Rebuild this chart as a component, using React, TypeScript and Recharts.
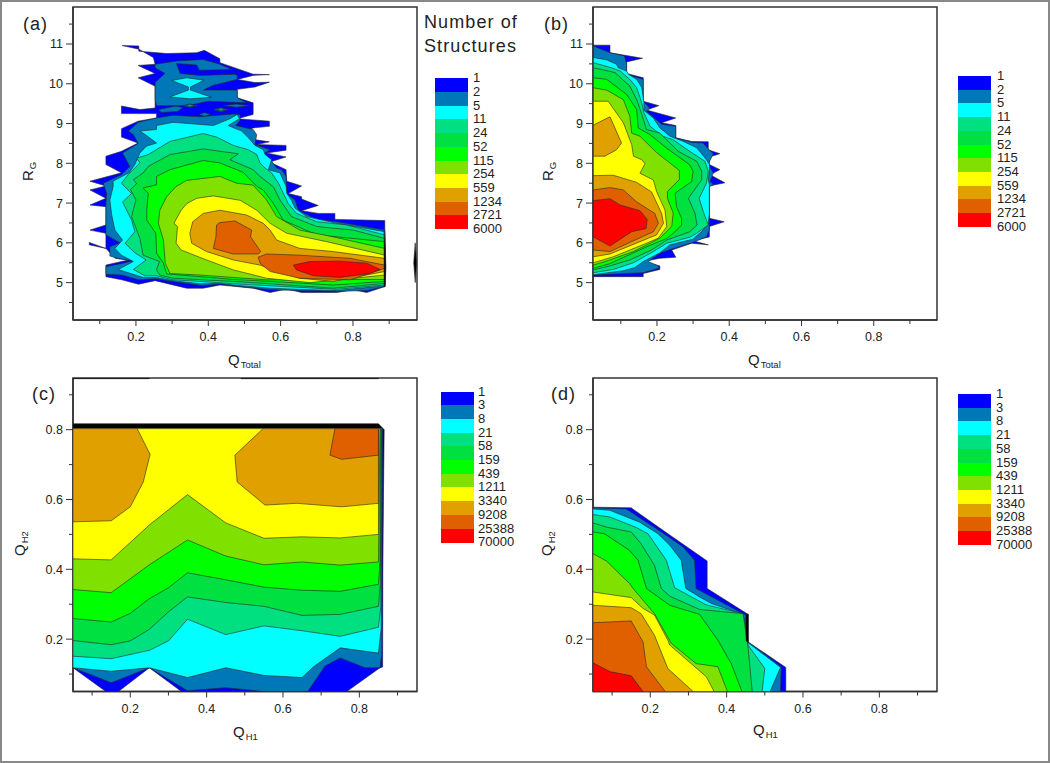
import { ScatterChart, Scatter, XAxis, YAxis, ReferenceArea, Label } from 'recharts'

type Pt = [number, number]

const COLORS = ['#0000ff', '#0078b8', '#00ffff', '#00e080', '#00e040', '#00ff00', '#80e000', '#ffff00', '#e0a000', '#e06000', '#ff0000', '#000000']

const legendAB = ['1', '2', '5', '11', '24', '52', '115', '254', '559', '1234', '2721', '6000']
const legendCD = ['1', '3', '8', '21', '58', '159', '439', '1211', '3340', '9208', '25388', '70000']

const ticksRg = [4.5, 5, 5.5, 6, 6.5, 7, 7.5, 8, 8.5, 9, 9.5, 10, 10.5, 11, 11.5]
const majorsRg = [5, 6, 7, 8, 9, 10, 11]
const ticksQ = [0.1, 0.2, 0.3, 0.4, 0.5, 0.6, 0.7, 0.8, 0.9]
const majorsQ = [0.2, 0.4, 0.6, 0.8]

// panel (a) contours, outermost first
const aL1: Pt[] = [[.162, 10.96], [.208, 10.95], [.208, 10.82], [.285, 10.76], [.368, 10.78], [.389, 10.84], [.432, 10.63], [.432, 10.53], [.48, 10.38], [.524, 10.24], [.569, 10.23], [.524, 10.21], [.48, 10.11], [.529, 10.03], [.569, 10.04], [.529, 9.92], [.48, 9.86], [.48, 9.65], [.524, 9.52], [.524, 9.23], [.48, 9.12], [.569, 9.06], [.569, 8.93], [.524, 8.89], [.49, 8.74], [.524, 8.6], [.569, 8.54], [.534, 8.47], [.615, 8.45], [.615, 8.33], [.561, 8.26], [.615, 8.16], [.57, 8.03], [.615, 7.84], [.617, 7.55], [.658, 7.43], [.621, 7.24], [.658, 7.16], [.658, 7.1], [.704, 6.94], [.658, 6.81], [.704, 6.74], [.75, 6.74], [.75, 6.59], [.888, 6.56], [.888, 4.9], [.838, 4.75], [.801, 4.82], [.755, 4.75], [.658, 4.75], [.617, 4.84], [.571, 4.75], [.524, 4.86], [.478, 4.9], [.432, 4.94], [.386, 4.86], [.34, 4.86], [.285, 4.98], [.253, 5.05], [.207, 4.96], [.161, 5.07], [.117, 5.15], [.117, 5.44], [.179, 5.57], [.143, 5.61], [.117, 5.86], [.071, 6.01], [.071, 5.95], [.117, 5.86], [.117, 6.24], [.073, 6.32], [.117, 6.45], [.117, 6.91], [.073, 6.95], [.117, 7.12], [.073, 7.33], [.117, 7.43], [.073, 7.55], [.16, 7.76], [.117, 7.97], [.117, 8.18], [.16, 8.3], [.206, 8.51], [.16, 8.66], [.16, 8.87], [.206, 9.06], [.257, 9.14], [.257, 9.25], [.16, 9.25], [.16, 9.44], [.211, 9.35], [.253, 9.39], [.253, 9.94], [.206, 10.15], [.253, 10.26], [.206, 10.46], [.253, 10.49], [.248, 10.66], [.208, 10.87]]
const aL2Top: Pt[] = [[.253, 10.49], [.312, 10.57], [.386, 10.61], [.432, 10.49], [.465, 10.36], [.48, 10.2], [.48, 10.11], [.414, 9.96], [.386, 9.84], [.48, 9.84], [.48, 9.65], [.506, 9.52], [.4, 9.56], [.34, 9.45], [.257, 9.45], [.253, 9.6], [.253, 10.03], [.28, 10.26], [.253, 10.4]]
const aL1Island: Pt[] = [[.312, 10.51], [.368, 10.47], [.375, 10.34], [.469, 10.36], [.478, 10.24], [.377, 10.21], [.322, 10.26]]
const aL3Top: Pt[] = [[.299, 10.08], [.34, 10.15], [.388, 10.09], [.351, 9.92], [.351, 9.84], [.409, 9.66], [.349, 9.62], [.294, 9.67], [.345, 9.84], [.345, 9.92]]
const aS1: Pt[] = [[.262, 9.35], [.31, 9.44], [.33, 9.4], [.315, 9.3], [.27, 9.28]]
const aS2: Pt[] = [[.326, 9.45], [.349, 9.49], [.372, 9.45], [.349, 9.41]]
const aS3: Pt[] = [[.414, 9.35], [.435, 9.4], [.455, 9.35], [.435, 9.29]]
const aS4: Pt[] = [[.441, 9.45], [.478, 9.49], [.515, 9.45], [.478, 9.41]]
const aS5: Pt[] = [[.374, 9.23], [.39, 9.28], [.406, 9.23], [.39, 9.18]]
const aC2: Pt[] = [[.335, 9.45], [.349, 9.47], [.363, 9.45], [.349, 9.43]]
const aC3: Pt[] = [[.424, 9.35], [.435, 9.37], [.446, 9.35], [.435, 9.32]]
const aL2: Pt[] = [[.206, 9.03], [.257, 9.14], [.303, 9.21], [.377, 9.17], [.469, 9.24], [.488, 9.22], [.488, 9.08], [.476, 8.95], [.524, 8.85], [.534, 8.72], [.529, 8.47], [.571, 8.34], [.552, 8.24], [.572, 8.09], [.589, 7.88], [.603, 7.84], [.615, 7.67], [.617, 7.24], [.64, 7.07], [.649, 6.82], [.7, 6.59], [.755, 6.53], [.888, 6.32], [.888, 4.9], [.838, 4.8], [.755, 4.78], [.653, 4.8], [.571, 4.82], [.469, 4.92], [.432, 4.97], [.386, 4.92], [.303, 5.03], [.253, 5.1], [.207, 5.07], [.161, 5.19], [.117, 5.21], [.117, 5.4], [.165, 5.49], [.192, 5.55], [.148, 5.61], [.128, 5.67], [.128, 5.9], [.156, 6.0], [.117, 6.2], [.117, 7.0], [.119, 7.24], [.11, 7.5], [.16, 7.71], [.183, 7.92], [.163, 8.26], [.206, 8.5], [.193, 8.72], [.179, 8.81]]
const aL3: Pt[] = [[.257, 8.95], [.303, 9.03], [.414, 8.95], [.46, 9.12], [.48, 9.23], [.486, 9.12], [.455, 8.95], [.492, 8.81], [.511, 8.64], [.529, 8.45], [.552, 8.34], [.557, 8.22], [.575, 8.09], [.566, 7.84], [.598, 7.76], [.615, 7.42], [.617, 7.24], [.63, 7.07], [.64, 6.87], [.672, 6.66], [.755, 6.49], [.888, 6.28], [.888, 4.92], [.755, 4.8], [.653, 4.83], [.571, 4.86], [.469, 4.94], [.432, 4.98], [.377, 4.97], [.303, 5.05], [.257, 5.13], [.22, 5.13], [.151, 5.33], [.193, 5.53], [.16, 5.69], [.142, 5.86], [.163, 6.07], [.142, 6.32], [.133, 6.7], [.128, 7.08], [.137, 7.41], [.137, 7.55], [.182, 7.77], [.197, 7.97], [.211, 8.26], [.229, 8.43], [.257, 8.51], [.229, 8.7], [.211, 8.81], [.257, 8.85]]
const aL4: Pt[] = [[.234, 8.22], [.294, 8.55], [.386, 8.75], [.423, 8.66], [.469, 8.45], [.511, 8.34], [.534, 8.22], [.543, 8.01], [.557, 7.88], [.575, 7.76], [.594, 7.5], [.603, 7.33], [.621, 6.99], [.644, 6.74], [.7, 6.53], [.782, 6.45], [.888, 6.2], [.888, 4.94], [.755, 4.83], [.653, 4.88], [.571, 4.92], [.469, 4.97], [.377, 5.03], [.303, 5.07], [.257, 5.17], [.225, 5.17], [.193, 5.33], [.228, 5.57], [.197, 5.75], [.17, 5.99], [.197, 6.28], [.188, 6.57], [.163, 7.03], [.188, 7.24], [.165, 7.45], [.16, 7.5], [.178, 7.71], [.211, 8.01], [.202, 8.13]]
const aL5: Pt[] = [[.252, 8.01], [.294, 8.22], [.386, 8.36], [.451, 8.28], [.483, 8.24], [.46, 8.09], [.524, 7.84], [.543, 7.67], [.58, 7.41], [.598, 7.08], [.63, 6.66], [.7, 6.41], [.801, 6.32], [.888, 6.11], [.888, 4.98], [.746, 4.86], [.571, 4.97], [.469, 5.03], [.303, 5.11], [.266, 5.19], [.257, 5.32], [.265, 5.53], [.22, 5.69], [.211, 6.11], [.188, 6.66], [.2, 7.08], [.185, 7.34], [.202, 7.49], [.193, 7.59], [.22, 7.76], [.234, 7.92]]
const aL6: Pt[] = [[.294, 7.84], [.386, 8.07], [.432, 8.01], [.497, 7.77], [.534, 7.42], [.552, 7.33], [.58, 6.99], [.607, 6.57], [.7, 6.2], [.888, 6.03], [.888, 5.03], [.746, 4.94], [.571, 5.03], [.469, 5.08], [.285, 5.22], [.276, 5.49], [.257, 5.74], [.255, 6.24], [.23, 6.57], [.23, 6.82], [.234, 7.24], [.22, 7.38], [.257, 7.46], [.257, 7.67]]
const aL7: Pt[] = [[.31, 7.41], [.34, 7.57], [.432, 7.67], [.478, 7.5], [.524, 7.45], [.561, 7.08], [.589, 6.66], [.653, 6.32], [.746, 6.15], [.888, 5.86], [.888, 5.08], [.561, 5.07], [.469, 5.13], [.377, 5.19], [.294, 5.23], [.281, 5.49], [.276, 6.07], [.262, 6.49], [.266, 6.82], [.285, 7.16]]
const aL8: Pt[] = [[.341, 6.99], [.368, 7.12], [.414, 7.18], [.488, 7.07], [.534, 6.82], [.571, 6.49], [.617, 6.24], [.727, 6.03], [.888, 5.69], [.888, 5.19], [.681, 5.0], [.561, 5.11], [.469, 5.32], [.395, 5.57], [.325, 5.82], [.311, 5.99], [.315, 6.41], [.305, 6.49], [.325, 6.82]]
const aL9: Pt[] = [[.357, 6.53], [.386, 6.74], [.432, 6.82], [.506, 6.7], [.552, 6.49], [.571, 6.32], [.589, 6.07], [.653, 5.86], [.746, 5.78], [.888, 5.61], [.888, 5.28], [.746, 5.03], [.653, 5.11], [.543, 5.44], [.469, 5.57], [.395, 5.78], [.354, 5.99], [.349, 6.24]]
const aL10A: Pt[] = [[.423, 6.45], [.432, 6.51], [.474, 6.55], [.52, 6.32], [.517, 6.15], [.545, 5.78], [.538, 5.72], [.469, 5.72], [.414, 5.86], [.421, 6.15]]
const aL10B: Pt[] = [[.538, 5.64], [.561, 5.72], [.653, 5.69], [.792, 5.61], [.888, 5.44], [.888, 5.36], [.792, 5.07], [.653, 5.11], [.571, 5.28], [.543, 5.49]]
const aL11: Pt[] = [[.635, 5.44], [.681, 5.53], [.764, 5.54], [.838, 5.49], [.875, 5.33], [.847, 5.23], [.764, 5.13], [.691, 5.17], [.644, 5.32]]
const aEdge: Pt[] = [[.886, 6.3], [.889, 5.9], [.891, 5.4], [.889, 4.9], [.886, 4.9]]
const aSliver: Pt[] = [[.972, 6.0], [.968, 5.5], [.972, 5.0], [.976, 5.5]]

// panel (b) contours
const bL1: Pt[] = [[.024, 10.97], [.07, 10.97], [.07, 10.78], [.16, 10.64], [.116, 10.55], [.116, 10.26], [.162, 10.15], [.162, 9.56], [.205, 9.45], [.171, 9.34], [.252, 9.14], [.213, 9.02], [.252, 8.95], [.252, 8.64], [.296, 8.55], [.342, 8.54], [.342, 8.34], [.374, 8.24], [.345, 8.16], [.345, 7.97], [.374, 7.84], [.347, 7.71], [.374, 7.58], [.388, 7.51], [.345, 7.43], [.345, 6.62], [.386, 6.53], [.345, 6.41], [.345, 6.15], [.3, 6.05], [.342, 5.95], [.296, 5.99], [.241, 5.82], [.252, 5.64], [.208, 5.61], [.162, 5.53], [.208, 5.42], [.208, 5.33], [.162, 5.23], [.162, 5.15], [.024, 5.15]]
const bL2: Pt[] = [[.024, 10.95], [.07, 10.78], [.11, 10.7], [.116, 10.49], [.116, 10.24], [.162, 10.11], [.162, 9.56], [.18, 9.39], [.171, 9.31], [.213, 8.98], [.252, 8.93], [.252, 8.64], [.296, 8.53], [.328, 8.51], [.339, 8.39], [.356, 8.24], [.343, 8.0], [.345, 7.92], [.356, 7.76], [.347, 7.55], [.356, 7.46], [.345, 7.41], [.345, 6.32], [.337, 6.15], [.296, 6.0], [.245, 5.86], [.208, 5.74], [.176, 5.53], [.204, 5.42], [.204, 5.36], [.162, 5.25], [.024, 5.19]]
const bL3: Pt[] = [[.024, 10.66], [.061, 10.6], [.088, 10.49], [.093, 10.4], [.116, 10.32], [.121, 10.24], [.144, 10.11], [.158, 9.9], [.164, 9.52], [.164, 9.33], [.19, 9.14], [.208, 8.89], [.236, 8.68], [.273, 8.55], [.31, 8.39], [.337, 8.09], [.345, 7.97], [.345, 7.84], [.342, 7.59], [.345, 7.46], [.345, 6.74], [.342, 6.49], [.323, 6.28], [.299, 6.09], [.236, 5.95], [.208, 5.75], [.162, 5.53], [.139, 5.38], [.107, 5.3], [.024, 5.2]]
const bL4: Pt[] = [[.024, 10.53], [.075, 10.4], [.098, 10.32], [.125, 10.11], [.144, 9.9], [.158, 9.52], [.164, 9.27], [.181, 8.93], [.217, 8.68], [.245, 8.59], [.291, 8.3], [.333, 8.05], [.342, 7.8], [.337, 7.5], [.317, 7.12], [.328, 6.79], [.342, 6.45], [.31, 6.24], [.291, 6.14], [.227, 5.99], [.19, 5.78], [.135, 5.5], [.079, 5.33], [.024, 5.25]]
const bL5: Pt[] = [[.024, 10.4], [.047, 10.36], [.084, 10.28], [.125, 9.94], [.144, 9.6], [.158, 9.23], [.171, 8.85], [.208, 8.76], [.259, 8.3], [.31, 8.05], [.324, 7.8], [.324, 7.59], [.287, 7.12], [.305, 6.75], [.311, 6.45], [.291, 6.28], [.227, 6.07], [.185, 5.82], [.125, 5.57], [.07, 5.42], [.024, 5.32]]
const bL6: Pt[] = [[.024, 10.15], [.061, 10.11], [.116, 9.73], [.144, 9.35], [.148, 8.89], [.181, 8.72], [.227, 8.38], [.291, 7.96], [.3, 7.8], [.296, 7.54], [.25, 7.25], [.254, 6.91], [.268, 6.62], [.268, 6.45], [.25, 6.28], [.227, 6.11], [.171, 5.9], [.116, 5.67], [.07, 5.48], [.024, 5.36]]
const bL7: Pt[] = [[.024, 9.9], [.061, 9.84], [.107, 9.6], [.125, 9.18], [.13, 8.76], [.153, 8.68], [.199, 8.27], [.262, 7.82], [.262, 7.59], [.229, 7.29], [.229, 7.12], [.245, 6.75], [.241, 6.41], [.208, 6.12], [.19, 6.03], [.135, 5.78], [.07, 5.57], [.024, 5.44]]
const bL8: Pt[] = [[.024, 9.56], [.065, 9.56], [.107, 9.02], [.13, 8.47], [.135, 8.18], [.158, 8.09], [.167, 7.99], [.153, 7.75], [.19, 7.58], [.199, 7.29], [.222, 6.83], [.227, 6.41], [.204, 6.12], [.171, 5.99], [.079, 5.65], [.024, 5.5]]
const bL9Top: Pt[] = [[.024, 8.96], [.07, 9.17], [.102, 8.51], [.088, 8.34], [.056, 8.18], [.024, 8.18]]
const bL9: Pt[] = [[.024, 7.69], [.079, 7.7], [.144, 7.52], [.185, 7.28], [.213, 6.74], [.218, 6.49], [.199, 6.2], [.07, 5.72], [.024, 5.65]]
const bL10: Pt[] = [[.024, 7.33], [.07, 7.39], [.107, 7.33], [.144, 7.03], [.194, 6.74], [.204, 6.49], [.19, 6.28], [.07, 5.78], [.024, 5.82]]
const bL11: Pt[] = [[.024, 7.06], [.07, 7.11], [.098, 6.95], [.153, 6.81], [.173, 6.59], [.17, 6.36], [.13, 6.28], [.07, 5.92], [.024, 6.15]]

// panel (c) contours
const cBase: Pt[] = [[.05, .817], [.85, .817], [.865, .8], [.862, .5], [.857, .12], [.854, .118], [.05, .118]]
const cL1: Pt[] = [[.05, .803], [.862, .803], [.861, .12], [.854, .118], [.767, .05], [.334, .05], [.25, .118], [.169, .05], [.136, .05], [.05, .118]]
const cL2: Pt[] = [[.05, .803], [.86, .803], [.859, .16], [.854, .118], [.815, .118], [.75, .146], [.71, .123], [.665, .05], [.55, .05], [.45, .061], [.35, .052], [.25, .118], [.15, .075], [.05, .118]]
const cL3: Pt[] = [[.05, .803], [.859, .803], [.857, .23], [.85, .16], [.75, .175], [.68, .121], [.65, .09], [.55, .096], [.45, .118], [.35, .09], [.25, .118], [.15, .108], [.05, .118]]
const cL4: Pt[] = [[.05, .803], [.858, .803], [.856, .29], [.85, .234], [.75, .208], [.65, .224], [.55, .238], [.45, .213], [.35, .257], [.3, .195], [.25, .168], [.15, .144], [.05, .151]]
const cL5: Pt[] = [[.05, .803], [.857, .803], [.855, .36], [.85, .294], [.75, .271], [.65, .268], [.55, .294], [.45, .305], [.35, .321], [.3, .278], [.25, .228], [.2, .195], [.15, .184], [.05, .196]]
const cL6: Pt[] = [[.05, .803], [.856, .803], [.854, .42], [.85, .357], [.75, .337], [.65, .34], [.55, .349], [.45, .37], [.35, .39], [.3, .347], [.25, .316], [.2, .274], [.15, .249], [.05, .259]]
const cL7: Pt[] = [[.05, .803], [.854, .803], [.85, .421], [.75, .412], [.65, .421], [.55, .413], [.45, .438], [.35, .484], [.25, .413], [.15, .333], [.05, .342]]
const cL8: Pt[] = [[.05, .803], [.85, .803], [.85, .5], [.75, .49], [.65, .493], [.55, .489], [.45, .533], [.35, .614], [.25, .527], [.15, .427], [.05, .43]]
const cL9A: Pt[] = [[.05, .803], [.218, .803], [.252, .729], [.234, .65], [.2, .579], [.15, .539], [.05, .536]]
const cL9B: Pt[] = [[.548, .803], [.474, .727], [.48, .65], [.553, .584], [.636, .589], [.754, .579], [.85, .589], [.85, .803]]
const cL10: Pt[] = [[.736, .803], [.723, .727], [.754, .715], [.85, .727], [.85, .803]]
const cTopA: Pt[] = [[.05, .946], [.25, .946], [.25, .951], [.05, .951]]
const cTopB: Pt[] = [[.49, .946], [.85, .946], [.85, .951], [.49, .951]]

// panel (d) contours
const dL1: Pt[] = [[.05, .578], [.15, .576], [.25, .499], [.349, .424], [.349, .345], [.456, .271], [.456, .192], [.555, .119], [.555, .05], [.05, .05]]
const dL2: Pt[] = [[.05, .576], [.137, .573], [.229, .507], [.286, .464], [.316, .426], [.32, .345], [.452, .268], [.456, .192], [.543, .121], [.541, .05], [.05, .05]]
const dL3: Pt[] = [[.05, .573], [.094, .569], [.172, .535], [.22, .502], [.251, .469], [.281, .426], [.293, .345], [.329, .321], [.36, .302], [.443, .271], [.456, .19], [.541, .119], [.514, .05], [.05, .05]]
const dL4: Pt[] = [[.05, .557], [.094, .55], [.163, .52], [.194, .502], [.242, .426], [.264, .347], [.347, .298], [.443, .273], [.456, .183], [.5, .116], [.493, .05], [.05, .05]]
const dL5: Pt[] = [[.05, .533], [.085, .521], [.15, .507], [.176, .473], [.211, .411], [.229, .345], [.251, .323], [.329, .285], [.443, .273], [.456, .178], [.467, .05], [.05, .05]]
const dL6: Pt[] = [[.05, .507], [.08, .502], [.146, .454], [.168, .426], [.19, .345], [.251, .297], [.329, .271], [.377, .197], [.412, .13], [.44, .05], [.05, .05]]
const dL7: Pt[] = [[.05, .445], [.085, .424], [.146, .359], [.155, .345], [.211, .273], [.255, .188], [.32, .13], [.377, .121], [.402, .05], [.05, .05]]
const dL8: Pt[] = [[.05, .335], [.15, .319], [.181, .288], [.211, .269], [.246, .197], [.251, .183], [.347, .092], [.367, .05], [.05, .05]]
const dL9: Pt[] = [[.05, .297], [.15, .29], [.176, .273], [.211, .211], [.246, .116], [.312, .05], [.05, .05]]
const dL10: Pt[] = [[.05, .247], [.15, .252], [.181, .192], [.19, .121], [.239, .05], [.05, .05]]
const dL11: Pt[] = [[.05, .132], [.094, .107], [.15, .095], [.181, .05], [.05, .05]]
const dEdge: Pt[] = [[.45, .27], [.457, .272], [.457, .19], [.451, .195]]

const layersA: [number, Pt[]][] = [[0, aL1], [1, aL2Top], [0, aL1Island], [2, aL3Top], [1, aS1], [1, aS2], [1, aS3], [1, aS4], [1, aS5], [3, aC2], [3, aC3], [1, aL2], [2, aL3], [3, aL4], [4, aL5], [5, aL6], [6, aL7], [7, aL8], [8, aL9], [9, aL10A], [9, aL10B], [10, aL11], [11, aEdge], [11, aSliver]]
const layersB: [number, Pt[]][] = [[0, bL1], [1, bL2], [2, bL3], [3, bL4], [4, bL5], [5, bL6], [6, bL7], [7, bL8], [8, bL9Top], [8, bL9], [9, bL10], [10, bL11]]
const layersC: [number, Pt[]][] = [[11, cBase], [0, cL1], [1, cL2], [2, cL3], [3, cL4], [4, cL5], [5, cL6], [6, cL7], [7, cL8], [8, cL9A], [8, cL9B], [9, cL10], [11, cTopA], [11, cTopB]]
const layersD: [number, Pt[]][] = [[0, dL1], [1, dL2], [2, dL3], [3, dL4], [4, dL5], [5, dL6], [6, dL7], [7, dL8], [8, dL9], [9, dL10], [10, dL11], [11, dEdge]]

const FONT = '"Liberation Sans", Arial, sans-serif'
const INK = '#222'

function XTick({ x, y, payload }: any) {
    const major = majorsQ.includes(payload.value)
    return (
        <g>
            <line x1={x} x2={x} y1={y} y2={y + (major ? 6 : 4)} stroke="#333" strokeWidth={1} />
            {major && <text x={x} y={y + 21} textAnchor="middle" fontSize={12.5} fontFamily={FONT} fill={INK}>{payload.value}</text>}
        </g>
    )
}

function makeYTick(majors: number[]) {
    return function YTick({ x, y, payload }: any) {
        const major = majors.includes(payload.value)
        return (
            <g>
                <line x1={x} x2={x - (major ? 7 : 4)} y1={y} y2={y} stroke="#333" strokeWidth={1} />
                {major && <text x={x - 10} y={y + 4.5} textAnchor="end" fontSize={12.5} fontFamily={FONT} fill={INK}>{payload.value}</text>}
            </g>
        )
    }
}

const title = (main: string, sub: string, x: number, y: number, rotate: boolean) => (
    <Label
        content={() => (
            <text x={x} y={y} fontSize={15} fontFamily={FONT} fill={INK} transform={rotate ? `rotate(-90 ${x} ${y})` : undefined}>
                {main}
                <tspan dy={3} dx={1} fontSize={9.5}>{sub}</tspan>
            </text>
        )}
    />
)

interface PanelProps {
    left: number
    top: number
    width: number
    height: number
    axisLeft: number
    axisBottom: number
    marginTop: number
    marginRight: number
    xDomain: [number, number]
    yDomain: [number, number]
    yTicks: number[]
    yMajors: number[]
    layers: [number, Pt[]][]
    xTitle: [string, string, number, number]
    yTitle: [string, string, number, number]
}

function Panel(p: PanelProps) {
    return (
        <div style={{ position: 'absolute', left: p.left, top: p.top }}>
            <ScatterChart width={p.width} height={p.height} margin={{ top: p.marginTop, right: p.marginRight, bottom: 0, left: 0 }}>
                <XAxis
                    type="number"
                    dataKey="x"
                    domain={p.xDomain}
                    ticks={ticksQ}
                    interval={0}
                    height={p.axisBottom}
                    tickSize={0}
                    tickMargin={0}
                    tickLine={false}
                    tick={<XTick />}
                    axisLine={{ stroke: '#333', strokeWidth: 1.5 }}
                    allowDataOverflow
                >
                    {title(p.xTitle[0], p.xTitle[1], p.xTitle[2], p.xTitle[3], false)}
                </XAxis>
                <YAxis
                    type="number"
                    dataKey="y"
                    domain={p.yDomain}
                    ticks={p.yTicks}
                    interval={0}
                    width={p.axisLeft}
                    tickSize={0}
                    tickMargin={0}
                    tickLine={false}
                    tick={makeYTick(p.yMajors)}
                    axisLine={{ stroke: '#333', strokeWidth: 1.5 }}
                    allowDataOverflow
                >
                    {title(p.yTitle[0], p.yTitle[1], p.yTitle[2], p.yTitle[3], true)}
                </YAxis>
                {p.layers.map(([level, pts], i) => (
                    <Scatter
                        key={i}
                        data={[...pts, pts[0]].map(([x, y]) => ({ x, y }))}
                        isAnimationActive={false}
                        lineJointType="linear"
                        line={{ fill: COLORS[level], stroke: '#262626', strokeWidth: 0.6 }}
                        shape={() => null}
                    />
                ))}
                <ReferenceArea x1={p.xDomain[0]} x2={p.xDomain[1]} y1={p.yDomain[0]} y2={p.yDomain[1]} fill="none" stroke="#333" strokeWidth={1.5} />
            </ScatterChart>
        </div>
    )
}

function ColorLegend({ left, top, labelLeft, labels }: { left: number; top: number; labelLeft: number; labels: string[] }) {
    const row = 13.7
    return (
        <>
            {COLORS.slice(0, 11).map((c, i) => (
                <div key={c} style={{ position: 'absolute', left, top: top + i * row, width: 33, height: row + 0.4, background: c }} />
            ))}
            {labels.map((t, i) => (
                <div key={t} style={{ position: 'absolute', left: labelLeft, top: top + i * row - 8, lineHeight: '16px', fontSize: 13, fontFamily: FONT, color: INK }}>{t}</div>
            ))}
        </>
    )
}

const Tag = ({ x, y, children }: { x: number; y: number; children: string }) => (
    <div style={{ position: 'absolute', left: x, top: y, fontSize: 18, lineHeight: '22px', letterSpacing: 1, fontFamily: FONT, color: INK }}>{children}</div>
)

export default function App() {
    return (
        <div style={{ position: 'absolute', left: 0, top: 0, width: 1050, height: 763, background: '#fff', overflow: 'hidden' }}>
            <div style={{ position: 'absolute', inset: 0, border: '2px solid #888', boxSizing: 'border-box' }} />
            <Panel left={0} top={0} width={525} height={380} axisLeft={73} axisBottom={60} marginTop={7} marginRight={108}
                xDomain={[.026, .977]} yDomain={[4.06, 11.93]} yTicks={ticksRg} yMajors={majorsRg} layers={layersA}
                xTitle={['Q', 'Total', 228, 365]} yTitle={['R', 'G', 33, 181]} />
            <Panel left={525} top={0} width={525} height={380} axisLeft={68} axisBottom={60} marginTop={7} marginRight={113}
                xDomain={[.023, .975]} yDomain={[4.06, 11.93]} yTicks={ticksRg} yMajors={majorsRg} layers={layersB}
                xTitle={['Q', 'Total', 223, 365]} yTitle={['R', 'G', 28, 181]} />
            <Panel left={0} top={370} width={525} height={393} axisLeft={73} axisBottom={71.5} marginTop={8} marginRight={108}
                xDomain={[.05, .951]} yDomain={[.05, .948]} yTicks={ticksQ} yMajors={majorsQ} layers={layersC}
                xTitle={['Q', 'H1', 233, 367]} yTitle={['Q', 'H2', 25, 186]} />
            <Panel left={525} top={370} width={525} height={393} axisLeft={68} axisBottom={71.5} marginTop={8} marginRight={113}
                xDomain={[.05, .951]} yDomain={[.05, .948]} yTicks={ticksQ} yMajors={majorsQ} layers={layersD}
                xTitle={['Q', 'H1', 228, 365]} yTitle={['Q', 'H2', 27, 186]} />
            <Tag x={23} y={13}>(a)</Tag>
            <Tag x={544} y={13}>(b)</Tag>
            <Tag x={32} y={383}>(c)</Tag>
            <Tag x={551} y={383}>(d)</Tag>
            <div style={{ position: 'absolute', left: 424, top: 11, fontSize: 18, lineHeight: '23.5px', letterSpacing: 1.1, fontFamily: FONT, color: INK }}>
                Number of<br />Structures
            </div>
            <ColorLegend left={435} top={78.3} labelLeft={473} labels={legendAB} />
            <ColorLegend left={958} top={76} labelLeft={997} labels={legendAB} />
            <ColorLegend left={441} top={391.5} labelLeft={478} labels={legendCD} />
            <ColorLegend left={958} top={394} labelLeft={996} labels={legendCD} />
        </div>
    )
}
